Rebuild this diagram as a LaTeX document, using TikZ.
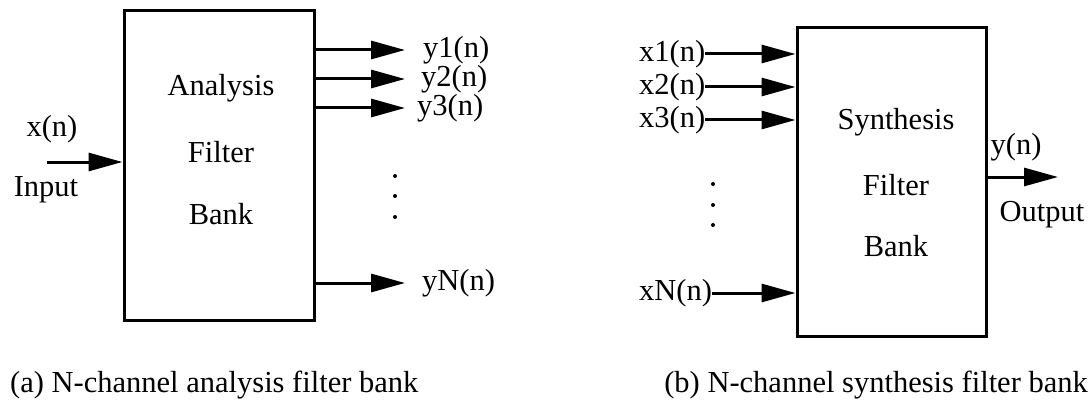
\documentclass[tikz,border=0pt]{standalone}
\usepackage{fontspec}
\setmainfont{Liberation Serif}
\usetikzlibrary{arrows.meta}
\begin{document}
\begin{tikzpicture}[x=1pt,y=-1pt,
  every node/.style={font=\fontsize{30.5}{36}\selectfont, inner sep=0pt},
  bankbox/.style={draw, line width=3pt, minimum width=190pt, minimum height=309pt},
  sig/.style={line width=3pt, -{Triangle[length=34pt,width=18pt]}},
  lab/.style={anchor=west},
  dotmark/.style={fill, circle, minimum size=4pt}]
\useasboundingbox (0,0) rectangle (1092,417);

% ---------- (a) analysis bank ----------
\node[bankbox] (A) at (219,165.5) {};
\node (At1) at (221,88) {Analysis};
\node (At2) at (221,152) {Filter};
\node (At3) at (221,214) {Bank};

\node (xin) at (52,129) {x(n)};
\node (inp) at (46,190) {Input};
\coordinate (inS) at (47,162);
\draw[sig] (inS) -- (A.west |- inS);

\coordinate (t1) at (405,50);
\coordinate (t2) at (405,79);
\coordinate (t3) at (405,108);
\coordinate (tN) at (405,283);
\draw[sig] (A.east |- t1) -- (t1);
\draw[sig] (A.east |- t2) -- (t2);
\draw[sig] (A.east |- t3) -- (t3);
\draw[sig] (A.east |- tN) -- (tN);
\node[lab] (y1) at (423,50) {y1(n)};
\node[lab] (y2) at (421,79) {y2(n)};
\node[lab] (y3) at (417,108) {y3(n)};
\node[lab] (yN) at (422,283) {yN(n)};
\node[dotmark] (ad1) at (395,176) {};
\node[dotmark] (ad2) at (395,196) {};
\node[dotmark] (ad3) at (395,217) {};

\node[anchor=base west] (capA) at (10,392) {(a) N-channel analysis filter bank};

% ---------- (b) synthesis bank ----------
\node[bankbox, minimum width=189pt, minimum height=308pt] (B) at (891.5,182) {};
\node (Bt1) at (896,122) {Synthesis};
\node (Bt2) at (896,185) {Filter};
\node (Bt3) at (896,246) {Bank};

\node[lab] (x1) at (639,54) {x1(n)};
\node[lab] (x2) at (639,87) {x2(n)};
\node[lab] (x3) at (639,120) {x3(n)};
\node[lab] (xN) at (639,293) {xN(n)};
\draw[sig] (x1.east) -- (B.west |- x1.east);
\draw[sig] (x2.east) -- (B.west |- x2.east);
\draw[sig] (x3.east) -- (B.west |- x3.east);
\draw[sig] (xN.east) -- (B.west |- xN.east);
\node[dotmark] (bd1) at (713,184) {};
\node[dotmark] (bd2) at (713,205) {};
\node[dotmark] (bd3) at (713,225) {};

\coordinate (outE) at (1058,177);
\draw[sig] (B.east |- outE) -- (outE);
\node (yout) at (1016,147) {y(n)};
\node (outp) at (1042,215) {Output};

\node[anchor=base east] (capB) at (1088,392) {(b) N-channel synthesis filter bank};
\end{tikzpicture}
\end{document}
